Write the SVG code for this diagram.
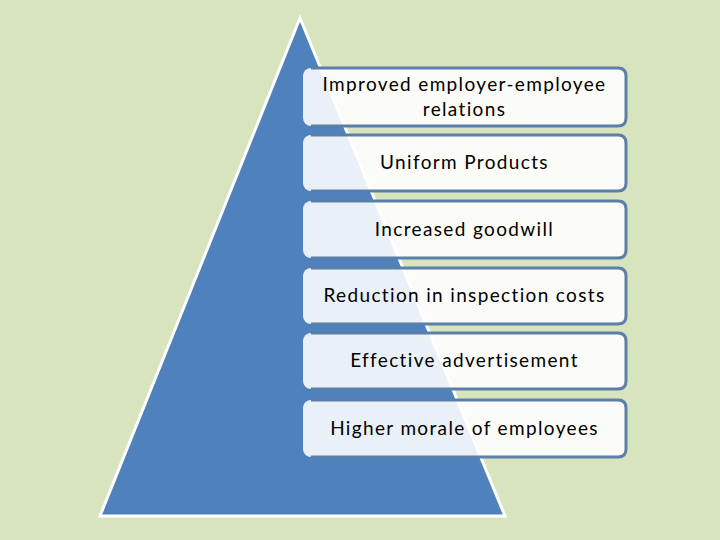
<svg xmlns="http://www.w3.org/2000/svg" width="720" height="540" viewBox="0 0 720 540">
<style>
.box{fill:#ffffff;fill-opacity:0.88}
.edge{fill:none;stroke:#5b7fa9;stroke-width:3}
.t{font-family:Lato,"Open Sans",sans-serif;font-size:19px;letter-spacing:1.35px;fill:#000;text-anchor:middle}
</style>
<rect width="720" height="540" fill="#d8e4bd"/>
<g id="pyramid">
<polygon points="300,18 505,516 100,516" fill="#4f81bd" stroke="#ffffff" stroke-width="3" stroke-linejoin="miter"/>
</g>
<g id="n1"><rect class="box" x="303" y="68" width="323" height="58" rx="8"/><path class="edge" d="M311,68 H618 Q626,68 626,76 V118 Q626,126 618,126 H311"/><text class="t" x="464.5" y="91">Improved employer-employee</text><text class="t" x="464.5" y="116">relations</text></g>
<g id="n2"><rect class="box" x="303" y="135" width="323" height="56" rx="8"/><path class="edge" d="M311,135 H618 Q626,135 626,143 V183 Q626,191 618,191 H311"/><text class="t" x="464.5" y="169">Uniform Products</text></g>
<g id="n3"><rect class="box" x="303" y="201" width="323" height="57" rx="8"/><path class="edge" d="M311,201 H618 Q626,201 626,209 V250 Q626,258 618,258 H311"/><text class="t" x="464.5" y="236">Increased goodwill</text></g>
<g id="n4"><rect class="box" x="303" y="268" width="323" height="56" rx="8"/><path class="edge" d="M311,268 H618 Q626,268 626,276 V316 Q626,324 618,324 H311"/><text class="t" x="464.5" y="302">Reduction in inspection costs</text></g>
<g id="n5"><rect class="box" x="303" y="333" width="323" height="56" rx="8"/><path class="edge" d="M311,333 H618 Q626,333 626,341 V381 Q626,389 618,389 H311"/><text class="t" x="464.5" y="367">Effective advertisement</text></g>
<g id="n6"><rect class="box" x="303" y="400" width="323" height="57" rx="8"/><path class="edge" d="M311,400 H618 Q626,400 626,408 V449 Q626,457 618,457 H311"/><text class="t" x="464.5" y="435">Higher morale of employees</text></g>
<g id="connectors"/>
</svg>
